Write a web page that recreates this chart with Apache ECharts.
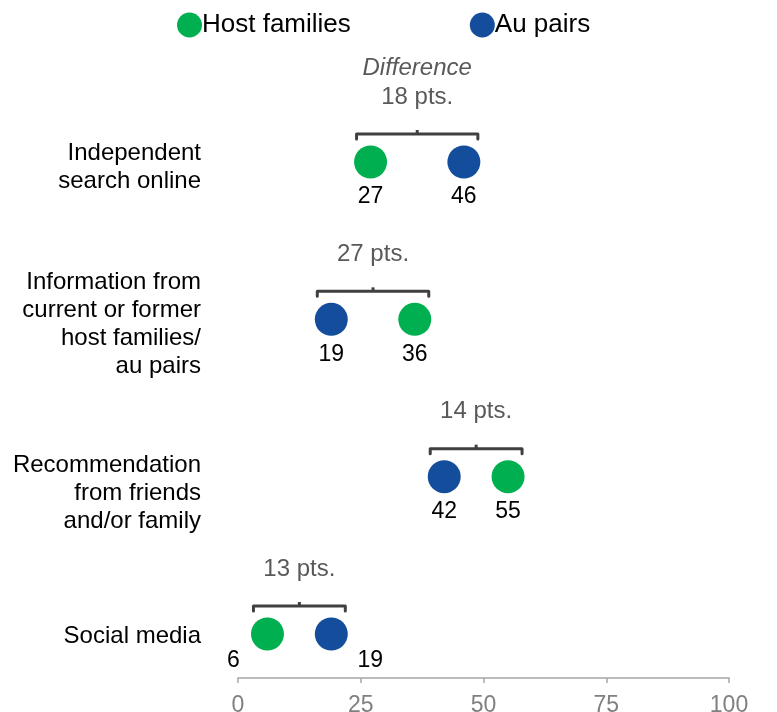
<!DOCTYPE html>
<html>
<head>
<meta charset="utf-8">
<script src="https://cdn.jsdelivr.net/npm/echarts@6/dist/echarts.min.js"></script>
<style>
  html, body { margin: 0; padding: 0; background: #fff; }
  #chart { width: 777px; height: 712px; }
</style>
</head>
<body>
<div id="chart"></div>
<script>
const categories = [
  'Independent\nsearch online',
  'Information from\ncurrent or former\nhost families/\nau pairs',
  'Recommendation\nfrom friends\nand/or family',
  'Social media'
]
const hostFamilies = [27, 36, 55, 6]
const auPairs = [46, 19, 42, 19]
const diffLabels = ['18 pts.', '27 pts.', '14 pts.', '13 pts.']
const xTicks = [0, 25, 50, 75, 100]

const FONT = "'Liberation Sans', Arial, sans-serif"
const GREEN = '#00b050'
const BLUE = '#134d9c'

// category labels don't sit exactly on their row in the original
const catLabelShift = [5, 5, 17, 2]

// label tweaks for the last row, where labels sit outside the dots
const labelOffsets = {
  host: { 3: [-34, -8] },
  au: { 3: [39, -8] }
}

function points(values, key) {
  return values.map((v, i) => {
    const item = { value: [v, i] }
    if (labelOffsets[key][i]) item.label = { offset: labelOffsets[key][i] }
    return item
  })
}

const ranges = categories.map((c, i) => [
  Math.min(hostFamilies[i], auPairs[i]),
  Math.max(hostFamilies[i], auPairs[i]),
  i
])

const chart = echarts.init(document.getElementById('chart'))

chart.setOption({
  animation: false,
  textStyle: { fontFamily: FONT },
  legend: {
    top: 7,
    left: 172,
    itemWidth: 25,
    itemHeight: 25,
    itemGap: 119,
    icon: 'circle',
    textStyle: { fontSize: 26, color: '#000', fontFamily: FONT, padding: [0, 0, 0, -5] },
    data: ['Host families', 'Au pairs']
  },
  grid: { left: 238, right: 48, top: 162, bottom: 78, outerBoundsMode: 'none', containLabel: false },
  xAxis: {
    type: 'value',
    min: 0,
    max: 100,
    interval: 25,
    offset: 44,
    axisLine: { show: true, lineStyle: { color: '#a6a6a6', width: 1.5 } },
    axisTick: { show: true, length: 5, lineStyle: { color: '#a6a6a6', width: 1.5 } },
    axisLabel: {
      fontSize: 23,
      color: '#808080',
      margin: 16,
      formatter: (v) => (xTicks.includes(v) ? String(v) : '')
    },
    splitLine: { show: false }
  },
  yAxis: {
    type: 'category',
    inverse: true,
    boundaryGap: false,
    data: categories,
    axisLine: { show: false },
    axisTick: { show: false },
    axisLabel: { show: false }
  },
  series: [
    {
      type: 'custom',
      name: 'categories',
      data: categories.map((c, i) => [0, i]),
      silent: true,
      renderItem: (params, api) => {
        const pt = api.coord([api.value(0), api.value(1)])
        return {
          type: 'text',
          style: {
            x: pt[0] - 37,
            y: pt[1] + catLabelShift[params.dataIndex],
            text: categories[params.dataIndex],
            align: 'right',
            verticalAlign: 'middle',
            fontSize: 24,
            lineHeight: 27.8,
            fontFamily: FONT,
            fill: '#000'
          }
        }
      }
    },
    {
      type: 'custom',
      name: 'diff',
      data: ranges,
      z: 1,
      renderItem: (params, api) => {
        const lo = api.coord([api.value(0), api.value(2)])
        const hi = api.coord([api.value(1), api.value(2)])
        const y = lo[1] - 28
        const x1 = lo[0] - 14
        const x2 = hi[0] + 14
        const xm = (x1 + x2) / 2
        const children = [
          {
            type: 'polyline',
            shape: { points: [[x1, y + 5], [x1, y], [x2, y], [x2, y + 5]] },
            style: { stroke: '#404040', lineWidth: 3, fill: null, lineJoin: 'round', lineCap: 'round' }
          },
          {
            type: 'line',
            shape: { x1: xm, y1: y, x2: xm, y2: y - 4 },
            style: { stroke: '#404040', lineWidth: 3 }
          },
          {
            type: 'text',
            style: {
              x: xm, y: y - 37, text: diffLabels[params.dataIndex],
              align: 'center', verticalAlign: 'middle',
              fontSize: 24, fontFamily: FONT, fill: '#595959'
            }
          }
        ]
        if (params.dataIndex === 0) {
          children.push({
            type: 'text',
            style: {
              x: xm, y: y - 66, text: 'Difference',
              align: 'center', verticalAlign: 'middle',
              fontSize: 24, fontStyle: 'italic', fontFamily: FONT, fill: '#595959'
            }
          })
        }
        return { type: 'group', children }
      }
    },
    {
      type: 'scatter',
      name: 'Host families',
      symbolSize: 33,
      itemStyle: { color: GREEN, opacity: 1 },
      data: points(hostFamilies, 'host'),
      label: {
        show: true,
        position: 'bottom',
        distance: 7,
        fontSize: 23,
        color: '#000',
        formatter: (p) => p.value[0]
      },
      z: 3
    },
    {
      type: 'scatter',
      name: 'Au pairs',
      symbolSize: 33,
      itemStyle: { color: BLUE, opacity: 1 },
      data: points(auPairs, 'au'),
      label: {
        show: true,
        position: 'bottom',
        distance: 7,
        fontSize: 23,
        color: '#000',
        formatter: (p) => p.value[0]
      },
      z: 3
    }
  ]
})
</script>
</body>
</html>
